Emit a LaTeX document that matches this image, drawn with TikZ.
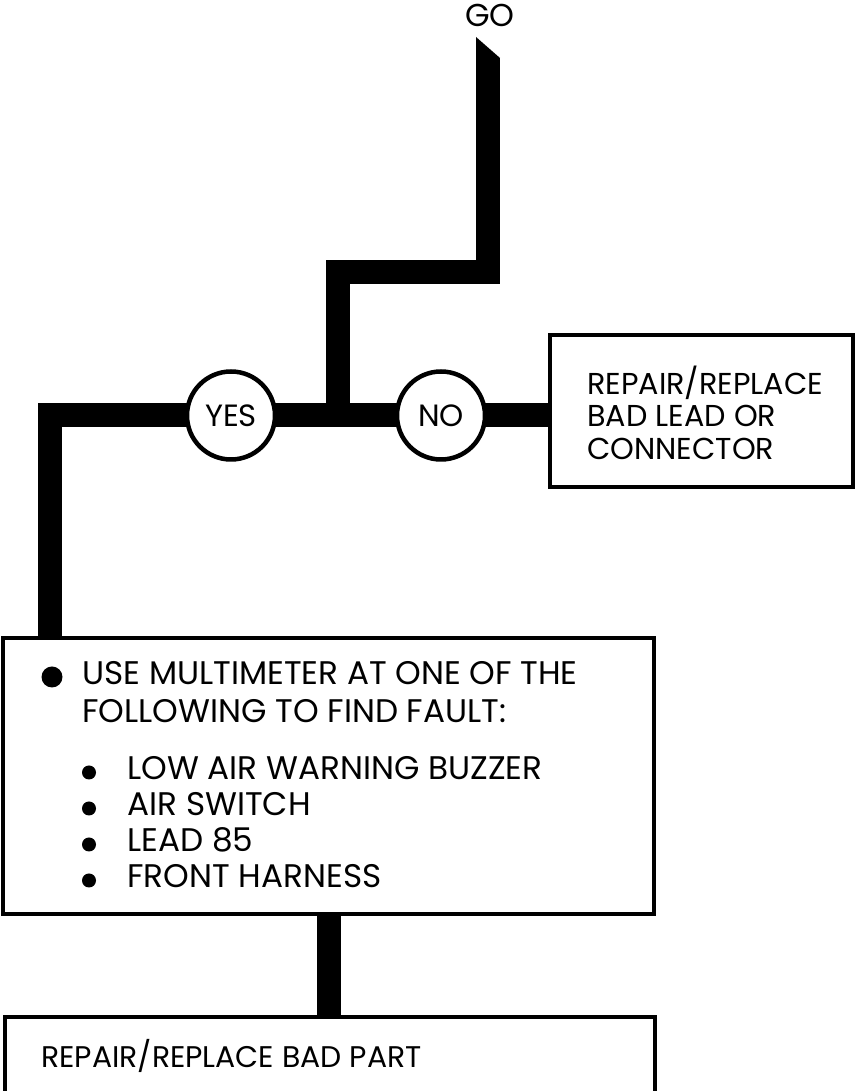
\documentclass[tikz,border=0pt]{standalone}
\usepackage{fontspec}
\setmainfont{Poppins}
\usepackage{tikz}
\usetikzlibrary{positioning, calc, backgrounds}
\newcommand{\txtsize}[1]{\fontsize{#1}{#1}\selectfont}

\begin{document}
\begin{tikzpicture}[
  flow/.style={line width=0.48cm, line join=miter},
  answer/.style={circle, draw, line width=0.09cm, fill=white,
                 minimum size=1.76cm, inner sep=0pt, font=\txtsize{17.5pt}},
  box/.style={rectangle, draw, line width=0.09cm, fill=white, inner sep=0pt},
  txt/.style={anchor=base west, inner sep=0pt, font=\txtsize{18.6pt}},
  dot/.style={circle, fill, inner sep=0pt, minimum size=#1}
]
  \useasboundingbox (0,0) rectangle (17.12,21.82);

  % ── Nodes ──────────────────────────────────────────────────────────────────
  \node[anchor=base, inner sep=0pt, font=\txtsize{18pt}] (go) at (9.8,21.28) {GO};

  \node[answer] (yes) at (4.62,13.51) {YES};
  \node[answer] (no)  at (8.82,13.51) {NO};

  \node[box, minimum width=6.06cm, minimum height=3.04cm] (fix)   at (14.03,13.6) {};
  \node[box, minimum width=13.02cm, minimum height=5.52cm] (check) at (6.57,6.30) {};
  \node[box, minimum width=13.0cm, minimum height=1.78cm] (part)  at (6.6,0.59) {};

  % ── Box texts ──────────────────────────────────────────────────────────────
  \node[txt, font=\txtsize{17.2pt}] (fix1) at (11.74,13.92) {REPAIR/REPLACE};
  \node[txt, font=\txtsize{17.2pt}] (fix2) at (11.74,13.28) {BAD LEAD OR};
  \node[txt, font=\txtsize{17.2pt}] (fix3) at (11.74,12.62) {CONNECTOR};

  \node[dot=0.42cm] (b0) at (1.04,8.28) {};
  \node[txt] (use)  at (1.64,8.12) {USE MULTIMETER AT ONE OF THE};
  \node[txt] (fol)  at (1.64,7.36) {FOLLOWING TO FIND FAULT:};

  \node[dot=0.28cm] (b1) at (1.78,6.37) {};
  \node[dot=0.28cm] (b2) at (1.78,5.65) {};
  \node[dot=0.28cm] (b3) at (1.78,4.93) {};
  \node[dot=0.28cm] (b4) at (1.78,4.21) {};
  \node[txt] (low)  at (2.54,6.22) {LOW AIR WARNING BUZZER};
  \node[txt] (air)  at (2.54,5.50) {AIR SWITCH};
  \node[txt] (lead) at (2.54,4.78) {LEAD 85};
  \node[txt] (harn) at (2.54,4.06) {FRONT HARNESS};

  \node[txt, font=\txtsize{17pt}] (bad) at (0.82,0.48) {REPAIR/REPLACE BAD PART};

  % ── Connectors ─────────────────────────────────────────────────────────────
  \coordinate (top)    at (9.76,20.66);
  \coordinate (bend)   at (6.75,16.37);
  \coordinate (join)   at (6.75,13.51);
  \coordinate (corner) at (0.99,13.51);

  \begin{scope}[on background layer]
    \fill (top) ++(-0.24,0) -- ++(0,0.42) -- ++(0.48,-0.42) -- cycle;
    \draw[flow] (top) |- (bend) -- (join);
    \draw[flow] (join) -- (no.center);
    \draw[flow] (no.center) -- (no.center -| fix.center);
    \draw[flow] (join) -- (yes.center);
    \draw[flow] (yes.center) -- (corner) -- (corner |- check.center);
    \draw[flow] (check.center) -- (check.center |- part.center);
  \end{scope}
\end{tikzpicture}
\end{document}
